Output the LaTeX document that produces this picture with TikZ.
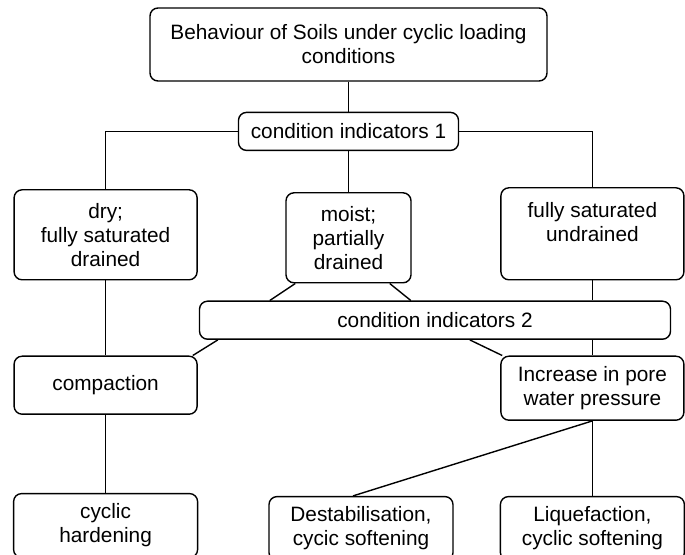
\documentclass[tikz,border=0pt]{standalone}
\usepackage{fontspec}
\setmainfont{Liberation Sans}
\usetikzlibrary{positioning}

\begin{document}
\begin{tikzpicture}[
  x=0.5pt, y=-0.5pt,
  node distance=20pt,
  box/.style={rectangle, draw=black, fill=white, rounded corners=4pt,
              line width=0.7pt, inner sep=2pt, align=center,
              font=\fontsize{10.4pt}{12pt}\selectfont},
  head/.style={box, minimum width=198.5pt, minimum height=36.5pt},
  indicator/.style={box, minimum height=19pt},
  state/.style={box, minimum width=91.5pt, minimum height=45pt},
  result/.style={box, minimum width=92pt, minimum height=32pt},
  link/.style={line width=0.7pt, black},
]
\useasboundingbox (0,0) rectangle (685,555);

\node[head] (top) at (348.5,44.5) {Behaviour of Soils under cyclic loading\\conditions};
\node[indicator, minimum width=110pt, below=15pt of top] (ind1) {condition indicators 1};
\node[state, below left=19pt and 20pt of ind1] (dry) {dry;\\fully saturated\\drained};
\node[state, minimum width=62.5pt, below=20.5pt of ind1] (moist) {moist;\\partially\\drained};
\node[state, minimum height=46pt, below right=18pt and 20.5pt of ind1] (sat) {fully saturated\\undrained\\\phantom{drained}};
\node[indicator, minimum width=235.5pt, below=8.5pt of moist, xshift=43.25pt] (ind2) {condition indicators 2};
\node[state, minimum height=29pt, below=37.5pt of dry] (compact) {compaction};
\node[state, minimum height=32pt, below=37.5pt of sat] (pwp) {Increase in pore\\water pressure};
\node[result, below=39pt of compact] (harden) {cyclic\\hardening};
\node[result, below=37.5pt of pwp] (liquef) {Liquefaction,\\cyclic softening};
\node[result, left=23pt of liquef] (destab) {Destabilisation,\\cycic softening};

\draw[link] (top) -- (ind1);
\draw[link] (ind1) -- (moist);
\draw[link] (ind1.west) -| (dry.north);
\draw[link] (ind1.east) -| (sat.north);

% moist branch into indicators 2
\draw[link] ([xshift=5pt]moist.south west) -- ([xshift=35.5pt]ind2.north west);
\draw[link] ([xshift=-11pt]moist.south east) -- ([xshift=106pt]ind2.north west);
\draw[link] (sat.south) -- (sat.south |- ind2.north);
\draw[link] ([xshift=9.5pt]ind2.south west) -- ([xshift=-2.5pt]compact.north east);
\draw[link] ([xshift=135.5pt]ind2.south west) -- ([xshift=1pt]pwp.north west);
\draw[link] (ind2.south -| pwp.north) -- (pwp.north);

\draw[link] (dry) -- (compact);
\draw[link] (compact) -- (harden);
\draw[link] (pwp.south) -- ([xshift=-4pt]destab.north);
\draw[link] (pwp) -- (liquef);

\end{tikzpicture}
\end{document}
